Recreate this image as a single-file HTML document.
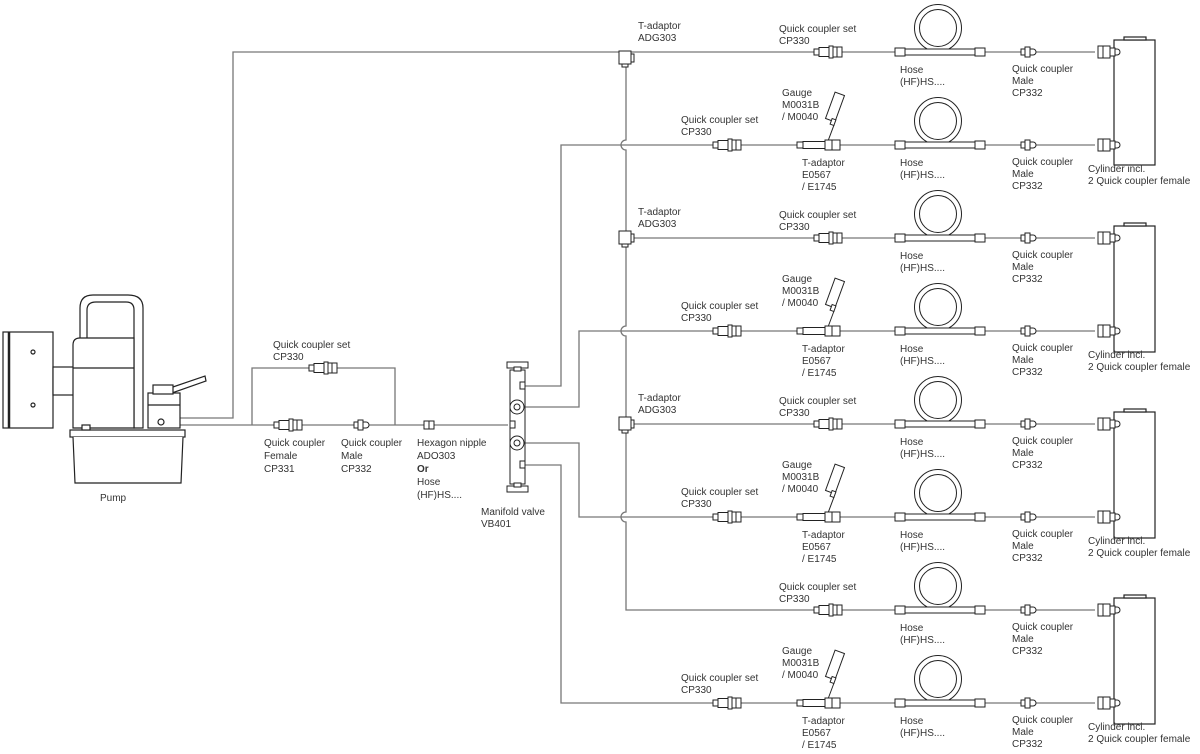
<!DOCTYPE html>
<html><head><meta charset="utf-8"><style>
html,body{margin:0;padding:0;background:#fff;}
svg{display:block;}
text{font-family:"Liberation Sans",Arial,sans-serif;font-size:10px;fill:#333;}
</style></head><body>
<svg width="1200" height="754" viewBox="0 0 1200 754" xmlns="http://www.w3.org/2000/svg">
<defs>
<g id="qcs" fill="#fff" stroke="#222" stroke-width="1">
<rect x="-14" y="-3" width="5" height="6"/><rect x="-9" y="-4.5" width="10" height="9"/>
<rect x="1" y="-6" width="4" height="12"/><rect x="5" y="-5" width="9" height="10"/>
<line x1="9" y1="-5" x2="9" y2="5"/></g>
<g id="qcm" fill="#fff" stroke="#222" stroke-width="1">
<rect x="-6" y="-3" width="4" height="6"/><rect x="-2" y="-5" width="5" height="10"/><path d="M3 -3 h3 a3 3 0 0 1 0 6 h-3z"/></g>
<g id="cylc" fill="#fff" stroke="#222" stroke-width="1">
<rect x="-12" y="-6" width="12" height="12"/><line x1="-7" y1="-6" x2="-7" y2="6"/><rect x="0" y="-4" width="5" height="8"/><path d="M5 -3 h2 a3 3 0 0 1 0 6 h-2z"/></g>
<g id="hose">
<circle cx="938" cy="-24" r="21" fill="none" stroke="#222" stroke-width="6"/>
<circle cx="938" cy="-24" r="21" fill="none" stroke="#fff" stroke-width="4"/>
<rect x="905" y="-3" width="70" height="6" fill="#fff" stroke="#222"/>
<rect x="895" y="-4" width="10" height="8" fill="#fff" stroke="#222"/>
<rect x="975" y="-4" width="10" height="8" fill="#fff" stroke="#222"/>
</g>
<g id="tad" fill="#fff" stroke="#222" stroke-width="1">
<line x1="828" y1="-4" x2="834" y2="-20"/>
<rect x="830" y="-52" width="10" height="28" transform="rotate(20 835 -38)"/>
<rect x="831" y="-26" width="4" height="6" transform="rotate(20 833 -23)"/>
<rect x="797" y="-3" width="6" height="6"/><rect x="803" y="-3.5" width="22" height="7"/>
<rect x="825" y="-5" width="15" height="10"/><line x1="832" y1="-5" x2="832" y2="5"/></g>
<g id="tv" fill="#fff" stroke="#222" stroke-width="1">
<rect x="-7" y="-7" width="12" height="13"/><rect x="5" y="-4" width="3" height="8"/><rect x="-4" y="6" width="6" height="3"/></g>
<g id="cyl" fill="#fff" stroke="#222" stroke-width="1.2"></g>
</defs>

<g fill="none" stroke="#777" stroke-width="1.3">
<!-- top line -->
<path d="M180 418 H233 V52 H1095"/>
<!-- main vertical -->
<path d="M626 52 V140 a5 5 0 0 0 0 10 V326 a5 5 0 0 0 0 10 V512 a5 5 0 0 0 0 10 V610 H1095"/>
<path d="M626 238 H1095 M626 424 H1095"/>
<!-- manifold outputs -->
<path d="M525 386 H561 V145 H1095"/>
<path d="M525 407 H579 V331 H1095"/>
<path d="M525 443 H579 V517 H1095"/>
<path d="M525 465 H561 V703 H1095"/>
<!-- main line -->
<path d="M180 425 H508"/>
<path d="M252 425 V368 H395 V425"/>
</g>

<!-- pump -->
<g fill="#fff" stroke="#222" stroke-width="1.2">
<rect x="3" y="332" width="50" height="96"/><line x1="9" y1="332" x2="9" y2="428" stroke-width="2.5"/>
<rect x="53" y="367" width="27" height="28"/>
<path d="M80 340 V308 Q80 295 93 295 H128 Q143 295 143 308 V428 H134 V310 Q134 302 126 302 H96 Q87 302 87 310 V340"/>
<path d="M73 428 V345 Q73 338 80 338 H134 V428 Z"/><line x1="73" y1="368" x2="134" y2="368"/>
<path d="M170 388 L205 376 L206 381 L172 393 Z"/>
<rect x="148" y="393" width="32" height="35"/><rect x="153" y="385" width="20" height="9"/>
<line x1="148" y1="405" x2="180" y2="405"/><circle cx="161" cy="422" r="3"/>
<rect x="70" y="430" width="115" height="7"/>
<path d="M73 437 L75 483 H181 L183 437"/>
<circle cx="33" cy="352" r="2"/><circle cx="33" cy="405" r="2"/>
<rect x="82" y="425" width="8" height="5"/>
</g>

<!-- left components -->
<use href="#qcs" x="323" y="368"/>
<use href="#qcs" x="288" y="425"/>
<use href="#qcm" x="360" y="425"/>
<g fill="#fff" stroke="#222"><rect x="424" y="421" width="10" height="8"/><line x1="429" y1="421" x2="429" y2="429"/></g>

<!-- manifold -->
<g fill="#fff" stroke="#222" stroke-width="1">
<rect x="510" y="370" width="15" height="114"/>
<rect x="507" y="362" width="21" height="6"/><rect x="514" y="367" width="7" height="4"/>
<rect x="507" y="486" width="21" height="6"/><rect x="514" y="483" width="7" height="4"/>
<circle cx="517" cy="407" r="7"/><circle cx="517" cy="443" r="7"/>
<circle cx="517" cy="407" r="3"/><circle cx="517" cy="443" r="3"/>
<rect x="520" y="382" width="5" height="7"/><rect x="510" y="421" width="5" height="7"/><rect x="520" y="461" width="5" height="7"/>
</g>

<!-- T-adaptors on vertical -->
<use href="#tv" x="626" y="58"/>
<use href="#tv" x="626" y="238"/>
<use href="#tv" x="626" y="424"/>

<!-- rows -->
<g>
<use href="#qcs" x="828" y="52"/><use href="#qcs" x="828" y="238"/><use href="#qcs" x="828" y="424"/><use href="#qcs" x="828" y="610"/>
<use href="#qcs" x="727" y="145"/><use href="#qcs" x="727" y="331"/><use href="#qcs" x="727" y="517"/><use href="#qcs" x="727" y="703"/>
<use href="#tad" y="145"/><use href="#tad" y="331"/><use href="#tad" y="517"/><use href="#tad" y="703"/>
<use href="#hose" y="52"/><use href="#hose" y="145"/><use href="#hose" y="238"/><use href="#hose" y="331"/>
<use href="#hose" y="424"/><use href="#hose" y="517"/><use href="#hose" y="610"/><use href="#hose" y="703"/>
<use href="#qcm" x="1027" y="52"/><use href="#qcm" x="1027" y="145"/><use href="#qcm" x="1027" y="238"/><use href="#qcm" x="1027" y="331"/>
<use href="#qcm" x="1027" y="424"/><use href="#qcm" x="1027" y="517"/><use href="#qcm" x="1027" y="610"/><use href="#qcm" x="1027" y="703"/>
</g>
<g fill="#fff" stroke="#222" stroke-width="1.2">
<rect x="1114" y="40" width="41" height="125"/><rect x="1124" y="37" width="22" height="3"/>
<rect x="1114" y="226" width="41" height="126"/><rect x="1124" y="223" width="22" height="3"/>
<rect x="1114" y="412" width="41" height="126"/><rect x="1124" y="409" width="22" height="3"/>
<rect x="1114" y="598" width="41" height="126"/><rect x="1124" y="595" width="22" height="3"/>
</g>
<use href="#cylc" x="1110" y="52"/><use href="#cylc" x="1110" y="145"/><use href="#cylc" x="1110" y="238"/><use href="#cylc" x="1110" y="331"/>
<use href="#cylc" x="1110" y="424"/><use href="#cylc" x="1110" y="517"/><use href="#cylc" x="1110" y="610"/><use href="#cylc" x="1110" y="703"/>

<!-- left labels -->
<text x="100" y="501">Pump</text>
<text x="273" y="348">Quick coupler set</text><text x="273" y="360">CP330</text>
<text x="264" y="446">Quick coupler</text><text x="264" y="459">Female</text><text x="264" y="472">CP331</text>
<text x="341" y="446">Quick coupler</text><text x="341" y="459">Male</text><text x="341" y="472">CP332</text>
<text x="417" y="446">Hexagon nipple</text><text x="417" y="459">ADO303</text><text x="417" y="472" font-weight="bold">Or</text><text x="417" y="485">Hose</text><text x="417" y="498">(HF)HS....</text>
<text x="481" y="515">Manifold valve</text><text x="481" y="527">VB401</text>

<!-- T-adaptor ADG303 labels -->
<text x="638" y="29">T-adaptor</text><text x="638" y="41">ADG303</text>
<text x="638" y="215">T-adaptor</text><text x="638" y="227">ADG303</text>
<text x="638" y="401">T-adaptor</text><text x="638" y="413">ADG303</text>

<!-- odd rows -->
<text x="779" y="32">Quick coupler set</text><text x="779" y="44">CP330</text>
<text x="779" y="218">Quick coupler set</text><text x="779" y="230">CP330</text>
<text x="779" y="404">Quick coupler set</text><text x="779" y="416">CP330</text>
<text x="779" y="590">Quick coupler set</text><text x="779" y="602">CP330</text>

<!-- even rows -->
<text x="681" y="123">Quick coupler set</text><text x="681" y="135">CP330</text>
<text x="681" y="309">Quick coupler set</text><text x="681" y="321">CP330</text>
<text x="681" y="495">Quick coupler set</text><text x="681" y="507">CP330</text>
<text x="681" y="681">Quick coupler set</text><text x="681" y="693">CP330</text>

<text x="782" y="96">Gauge</text><text x="782" y="108">M0031B</text><text x="782" y="120">/ M0040</text>
<text x="782" y="282">Gauge</text><text x="782" y="294">M0031B</text><text x="782" y="306">/ M0040</text>
<text x="782" y="468">Gauge</text><text x="782" y="480">M0031B</text><text x="782" y="492">/ M0040</text>
<text x="782" y="654">Gauge</text><text x="782" y="666">M0031B</text><text x="782" y="678">/ M0040</text>

<text x="802" y="166">T-adaptor</text><text x="802" y="178">E0567</text><text x="802" y="190">/ E1745</text>
<text x="802" y="352">T-adaptor</text><text x="802" y="364">E0567</text><text x="802" y="376">/ E1745</text>
<text x="802" y="538">T-adaptor</text><text x="802" y="550">E0567</text><text x="802" y="562">/ E1745</text>
<text x="802" y="724">T-adaptor</text><text x="802" y="736">E0567</text><text x="802" y="748">/ E1745</text>

<!-- hose labels -->
<text x="900" y="73">Hose</text><text x="900" y="85">(HF)HS....</text>
<text x="900" y="166">Hose</text><text x="900" y="178">(HF)HS....</text>
<text x="900" y="259">Hose</text><text x="900" y="271">(HF)HS....</text>
<text x="900" y="352">Hose</text><text x="900" y="364">(HF)HS....</text>
<text x="900" y="445">Hose</text><text x="900" y="457">(HF)HS....</text>
<text x="900" y="538">Hose</text><text x="900" y="550">(HF)HS....</text>
<text x="900" y="631">Hose</text><text x="900" y="643">(HF)HS....</text>
<text x="900" y="724">Hose</text><text x="900" y="736">(HF)HS....</text>

<!-- QC male labels -->
<text x="1012" y="72">Quick coupler</text><text x="1012" y="84">Male</text><text x="1012" y="96">CP332</text>
<text x="1012" y="165">Quick coupler</text><text x="1012" y="177">Male</text><text x="1012" y="189">CP332</text>
<text x="1012" y="258">Quick coupler</text><text x="1012" y="270">Male</text><text x="1012" y="282">CP332</text>
<text x="1012" y="351">Quick coupler</text><text x="1012" y="363">Male</text><text x="1012" y="375">CP332</text>
<text x="1012" y="444">Quick coupler</text><text x="1012" y="456">Male</text><text x="1012" y="468">CP332</text>
<text x="1012" y="537">Quick coupler</text><text x="1012" y="549">Male</text><text x="1012" y="561">CP332</text>
<text x="1012" y="630">Quick coupler</text><text x="1012" y="642">Male</text><text x="1012" y="654">CP332</text>
<text x="1012" y="723">Quick coupler</text><text x="1012" y="735">Male</text><text x="1012" y="747">CP332</text>

<!-- cylinder labels -->
<text x="1088" y="172">Cylinder incl.</text><text x="1088" y="184">2 Quick coupler female</text>
<text x="1088" y="358">Cylinder incl.</text><text x="1088" y="370">2 Quick coupler female</text>
<text x="1088" y="544">Cylinder incl.</text><text x="1088" y="556">2 Quick coupler female</text>
<text x="1088" y="730">Cylinder incl.</text><text x="1088" y="742">2 Quick coupler female</text>
</svg>
</body></html>
